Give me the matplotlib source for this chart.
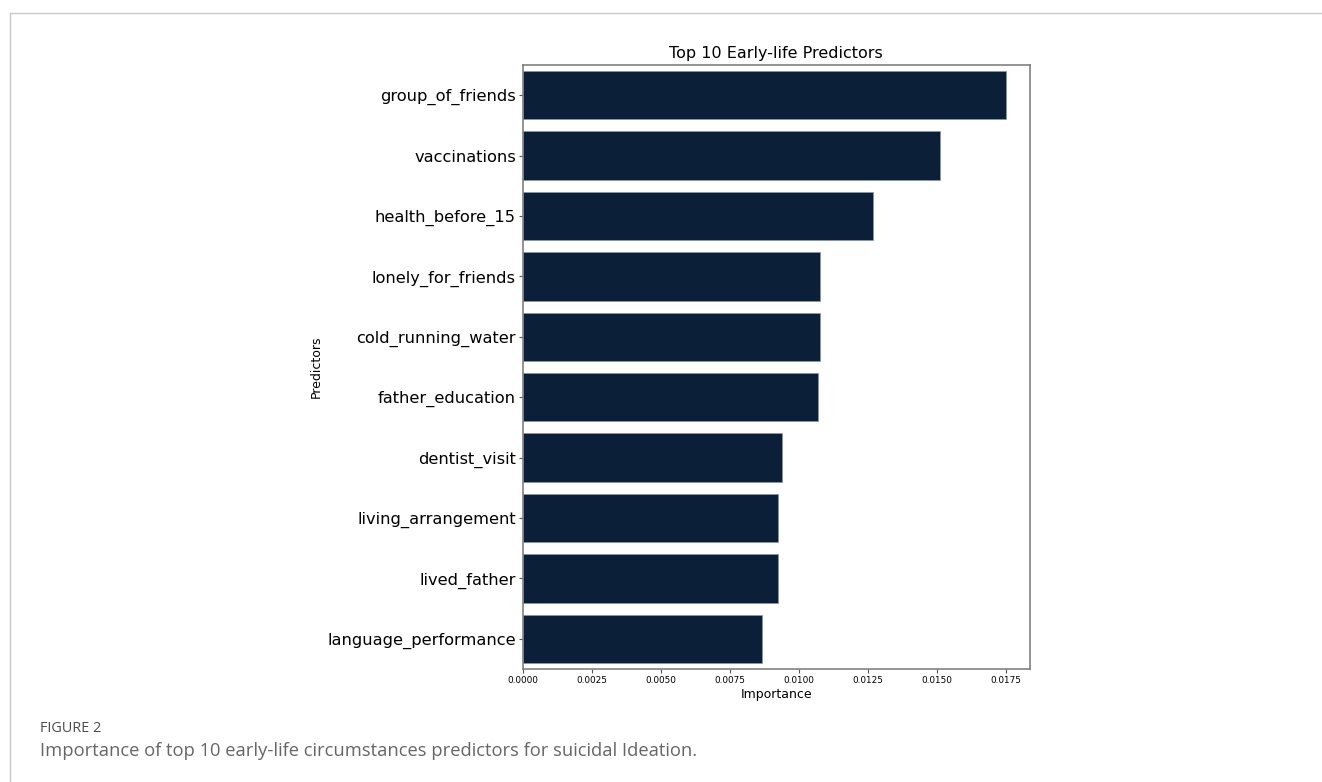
import matplotlib.pyplot as plt
from matplotlib.lines import Line2D

# values
predictors = ['group_of_friends', 'vaccinations', 'health_before_15',
              'lonely_for_friends', 'cold_running_water', 'father_education',
              'dentist_visit', 'living_arrangement', 'lived_father',
              'language_performance']
importance = [0.01751, 0.01514, 0.01270, 0.01079, 0.01076, 0.01069,
              0.00941, 0.00925, 0.00925, 0.00869]

bar_color = '#0b1f38'

fig = plt.figure(figsize=(13.22, 7.82), dpi=100)
ax = fig.add_axes([0.3954, 0.1445, 0.3837, 0.7724])

ax.barh(predictors, importance, height=0.8, color=bar_color,
        edgecolor='#8a97a8', linewidth=0.5)
ax.set_ylim(len(predictors) - 0.5, -0.5)

ax.set_title('Top 10 Early-life Predictors', fontsize=11.5, pad=5)
ax.set_xlabel('Importance', fontsize=9, labelpad=2)
ax.set_ylabel('Predictors', fontsize=9, labelpad=3)
ax.tick_params(axis='y', labelsize=11.7, length=3, pad=2, color='#555555')
ax.tick_params(axis='x', labelsize=6.4, length=3, pad=2, color='#555555')
for s in ax.spines.values():
    s.set_color('#777777')
    s.set_linewidth(1.1)

# page frame lines
fig.add_artist(Line2D([9.5 / 1322, 1.0], [1 - 13 / 782, 1 - 13 / 782],
                      transform=fig.transFigure, color='#c8c8c8', lw=1))
fig.add_artist(Line2D([9.5 / 1322, 9.5 / 1322], [0, 1 - 13 / 782],
                      transform=fig.transFigure, color='#c8c8c8', lw=1))

# caption
fig.text(40 / 1322, 1 - 729 / 782, 'FIGURE 2', fontsize=10.4, color='#4a4a4a',
         family='Open Sans', va='center', ha='left')
fig.text(40 / 1322, 1 - 751 / 782,
         'Importance of top 10 early-life circumstances predictors for suicidal Ideation.',
         fontsize=13.2, color='#666666', family='Open Sans', va='center', ha='left')

fig.savefig('out.png', dpi=100)
